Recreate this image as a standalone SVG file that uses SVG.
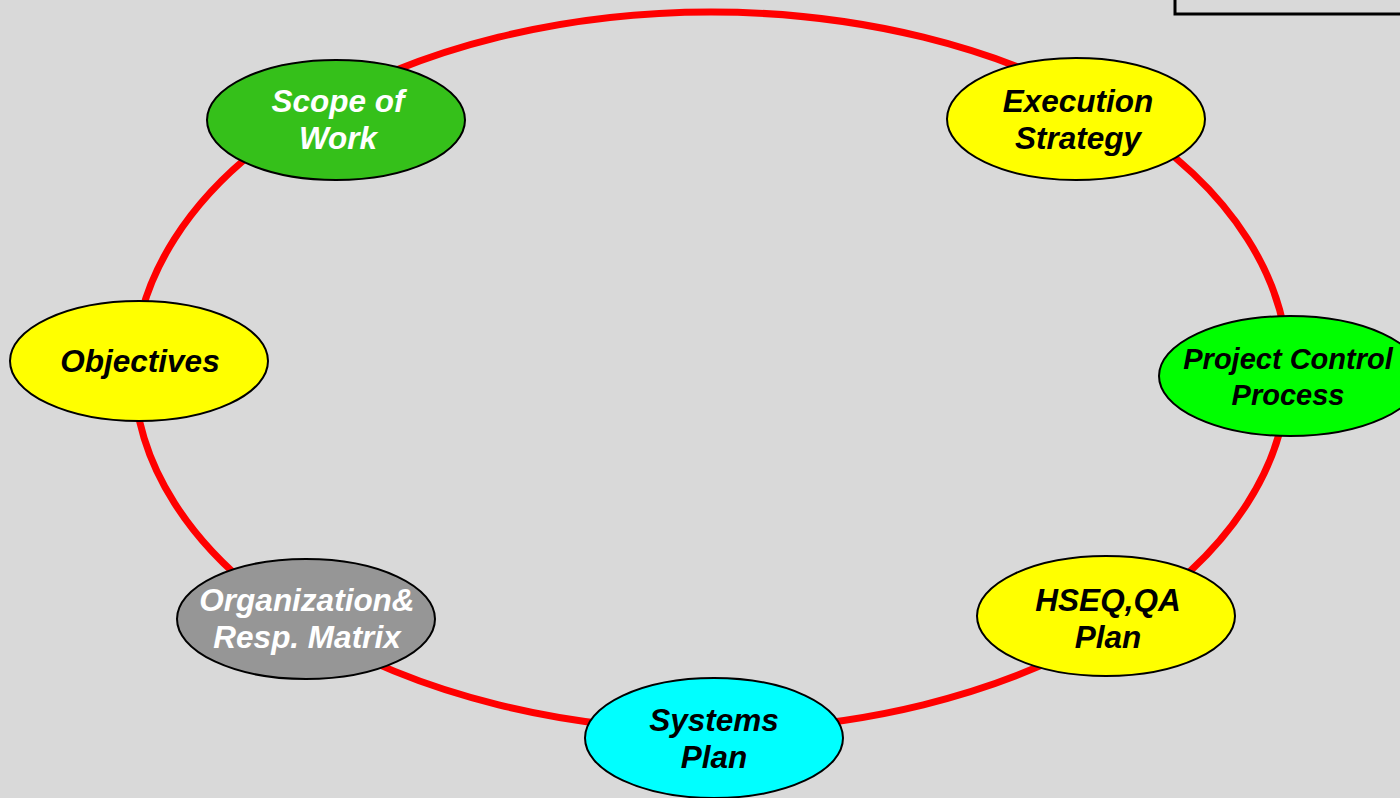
<svg xmlns="http://www.w3.org/2000/svg" width="1400" height="798" viewBox="0 0 1400 798">
<style>
.n{stroke:#000;stroke-width:2}
.t{font-family:"Liberation Sans",Arial,sans-serif;font-weight:bold;font-style:italic;font-size:31.5px;text-anchor:middle}
.s{font-size:29px}
.d{fill:#000}
.w{fill:#fff}
</style>
<rect width="1400" height="798" fill="#d9d9d9"/>
<rect x="1175" y="-10" width="240" height="24" fill="none" stroke="#000" stroke-width="3"/>
<g id="connectors">
<ellipse cx="711" cy="371" rx="577" ry="359" fill="none" stroke="#ff0000" stroke-width="7"/>
</g>
<g id="scope">
<ellipse class="n" cx="336" cy="120" rx="129" ry="60" fill="#35c01a"/>
<text class="t w" x="338" y="112">Scope of</text>
<text class="t w" x="338" y="149">Work</text>
</g>
<g id="execution">
<ellipse class="n" cx="1076" cy="119" rx="129" ry="61" fill="#ffff00"/>
<text class="t d" x="1078" y="112">Execution</text>
<text class="t d" x="1078" y="149">Strategy</text>
</g>
<g id="objectives">
<ellipse class="n" cx="139" cy="361" rx="129" ry="60" fill="#ffff00"/>
<text class="t d" x="140" y="372">Objectives</text>
</g>
<g id="projectcontrol">
<ellipse class="n" cx="1290" cy="376" rx="131" ry="60" fill="#00ff00"/>
<text class="t s d" x="1288" y="369">Project Control</text>
<text class="t s d" x="1288" y="405">Process</text>
</g>
<g id="hseq">
<ellipse class="n" cx="1106" cy="616" rx="129" ry="60" fill="#ffff00"/>
<text class="t d" x="1108" y="611">HSEQ,QA</text>
<text class="t d" x="1108" y="648">Plan</text>
</g>
<g id="organization">
<ellipse class="n" cx="306" cy="619" rx="129" ry="60" fill="#969696"/>
<text class="t w" x="307" y="611">Organization&amp;</text>
<text class="t w" x="307" y="648">Resp. Matrix</text>
</g>
<g id="systems">
<ellipse class="n" cx="714" cy="738" rx="129" ry="60" fill="#00ffff"/>
<text class="t d" x="714" y="731">Systems</text>
<text class="t d" x="714" y="768">Plan</text>
</g>
</svg>
